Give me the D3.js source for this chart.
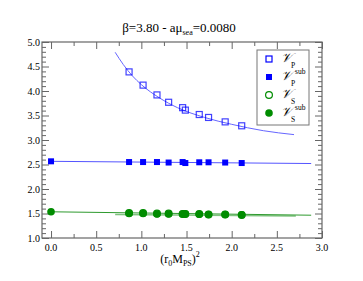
<!DOCTYPE html>
<html>
<head>
<meta charset="utf-8">
<script src="https://cdn.jsdelivr.net/npm/d3@7"></script>
<style>
  body { margin: 0; background: #fff; }
  text { font-family: "Liberation Serif", "DejaVu Serif", serif; }
</style>
</head>
<body>
<div id="chart"></div>
<script>
const width = 363;
const height = 281;

// x values shared by all lattice points
const xPoints = [0.864, 1.019, 1.173, 1.302, 1.457, 1.487, 1.641, 1.744, 1.928, 2.111];
const vP = [4.39, 4.12, 3.92, 3.77, 3.66, 3.61, 3.52, 3.46, 3.37, 3.29];
const vPsub = [2.55, 2.55, 2.55, 2.54, 2.55, 2.53, 2.545, 2.545, 2.54, 2.53];
const vS = [1.51, 1.51, 1.50, 1.50, 1.49, 1.49, 1.49, 1.48, 1.48, 1.47];
const vSsub = [1.50, 1.50, 1.49, 1.49, 1.49, 1.49, 1.485, 1.48, 1.48, 1.475];

// extrapolated points at x = 0
const chiralX = [0];
const chiralPsub = [2.565];
const chiralSsub = [1.535];

// fit curves
const fitPx = [0.71, 0.8, 0.9, 1.0, 1.2, 1.4, 1.7, 2.0, 2.35, 2.69];
const fitPy = [4.79, 4.54, 4.31, 4.13, 3.86, 3.66, 3.46, 3.32, 3.19, 3.11];
const fitPsubX = [0, 2.88];
const fitPsubY = [2.565, 2.52];
const fitSsubX = [0, 2.88];
const fitSsubY = [1.535, 1.465];
const fitSX = [0.71, 2.71];
const fitSY = [1.48, 1.45];

const margin = {top: 42, right: 41, bottom: 43, left: 42};

const x = d3.scaleLinear()
    .domain([-0.1, 3.0])
    .range([margin.left, width - margin.right]);
const y = d3.scaleLinear()
    .domain([1.0, 5.0])
    .range([height - margin.bottom, margin.top]);

const svg = d3.select("#chart").append("svg")
    .attr("width", width)
    .attr("height", height)
    .attr("viewBox", [0, 0, width, height]);

const axisColor = "#666";

// ticks, all pointing inward
const xMajor = d3.range(0, 3.01, 0.5);
const xMinor = d3.range(0.25, 3.0, 0.5);
const yMajor = d3.range(1.0, 5.01, 0.5);
const yMinor = d3.range(1.1, 5.0, 0.1).filter(v => Math.abs(v * 2 - Math.round(v * 2)) > 0.01);

function tickAxis(axisFn, scale, values, size, pos) {
  return svg.append("g")
      .attr("transform", pos)
      .call(axisFn(scale).tickValues(values).tickSize(size).tickFormat(""))
      .call(g => g.select(".domain").remove())
      .call(g => g.selectAll("line").attr("stroke", axisColor));
}

const bottomY = height - margin.bottom;
const rightX = width - margin.right;
tickAxis(d3.axisTop, x, xMajor, 7, `translate(0,${bottomY})`);
tickAxis(d3.axisTop, x, xMinor, 4, `translate(0,${bottomY})`);
tickAxis(d3.axisBottom, x, xMajor, 7, `translate(0,${margin.top})`);
tickAxis(d3.axisBottom, x, xMinor, 4, `translate(0,${margin.top})`);
tickAxis(d3.axisRight, y, yMajor, 7, `translate(${margin.left},0)`);
tickAxis(d3.axisRight, y, yMinor, 4, `translate(${margin.left},0)`);
tickAxis(d3.axisLeft, y, yMajor, 7, `translate(${rightX},0)`);
tickAxis(d3.axisLeft, y, yMinor, 4, `translate(${rightX},0)`);

svg.append("rect")
    .attr("x", margin.left)
    .attr("y", margin.top)
    .attr("width", rightX - margin.left)
    .attr("height", bottomY - margin.top)
    .attr("fill", "none")
    .attr("stroke", axisColor)
    .attr("stroke-width", 1.2);

// tick labels
svg.append("g").selectAll("text")
  .data(xMajor)
  .join("text")
    .attr("x", d => x(d))
    .attr("y", bottomY + 13)
    .attr("text-anchor", "middle")
    .attr("font-size", 10)
    .text(d => d.toFixed(1));

svg.append("g").selectAll("text")
  .data(yMajor)
  .join("text")
    .attr("x", margin.left - 2)
    .attr("y", d => y(d) + 3.5)
    .attr("text-anchor", "end")
    .attr("font-size", 10)
    .text(d => d.toFixed(1));

// title
const title = svg.append("text")
    .attr("x", 179)
    .attr("y", 32)
    .attr("text-anchor", "middle")
    .attr("font-size", 13);
title.append("tspan").text("β=3.80  -  aμ");
title.append("tspan").attr("font-size", 8).attr("dy", 3).text("sea");
title.append("tspan").attr("dy", -3).text("=0.0080");

// x label
const xlabel = svg.append("text")
    .attr("x", 180)
    .attr("y", 263)
    .attr("text-anchor", "middle")
    .attr("font-size", 12);
xlabel.append("tspan").text("(r");
xlabel.append("tspan").attr("font-size", 8).attr("dy", 3).text("0");
xlabel.append("tspan").attr("dy", -3).text("M");
xlabel.append("tspan").attr("font-size", 8).attr("dy", 3).text("PS");
xlabel.append("tspan").attr("dy", -3).text(")");
xlabel.append("tspan").attr("font-size", 8).attr("dy", -6).text("2");

// fit lines
const line = d3.line().x(d => x(d[0])).y(d => y(d[1]));
const curve = d3.line().x(d => x(d[0])).y(d => y(d[1])).curve(d3.curveMonotoneX);

svg.append("path")
    .attr("d", curve(d3.zip(fitPx, fitPy)))
    .attr("fill", "none").attr("stroke", "#6666ff").attr("stroke-width", 1);
svg.append("path")
    .attr("d", line(d3.zip(fitPsubX, fitPsubY)))
    .attr("fill", "none").attr("stroke", "#5555ff").attr("stroke-width", 1);
svg.append("path")
    .attr("d", line(d3.zip(fitSX, fitSY)))
    .attr("fill", "none").attr("stroke", "#7fc27f").attr("stroke-width", 1.5);
svg.append("path")
    .attr("d", line(d3.zip(fitSsubX, fitSsubY)))
    .attr("fill", "none").attr("stroke", "#2e9a2e").attr("stroke-width", 1);

const blue = "#0000ff";
const green = "#008c00";
const sq = 6;

function squares(xs, ys, filled) {
  svg.append("g").selectAll("rect")
    .data(d3.zip(xs, ys))
    .join("rect")
      .attr("x", d => x(d[0]) - sq / 2)
      .attr("y", d => y(d[1]) - sq / 2)
      .attr("width", sq)
      .attr("height", sq)
      .attr("fill", filled ? blue : "none")
      .attr("stroke", blue)
      .attr("stroke-opacity", filled ? 1 : 0.75)
      .attr("stroke-width", filled ? 0 : 1.2);
}

function circles(xs, ys, filled) {
  svg.append("g").selectAll("circle")
    .data(d3.zip(xs, ys))
    .join("circle")
      .attr("cx", d => x(d[0]))
      .attr("cy", d => y(d[1]))
      .attr("r", filled ? 3.8 : 3.4)
      .attr("fill", filled ? green : "none")
      .attr("stroke", green)
      .attr("stroke-width", filled ? 0 : 1.2);
}

squares(xPoints, vP, false);
squares(xPoints, vPsub, true);
squares(chiralX, chiralPsub, true);
circles(xPoints, vS, false);
circles(xPoints, vSsub, true);
circles(chiralX, chiralSsub, true);

// legend
const legendX = 257, legendY = 50;
svg.append("rect")
    .attr("x", legendX)
    .attr("y", legendY)
    .attr("width", 52)
    .attr("height", 75)
    .attr("fill", "#fff")
    .attr("stroke", "#777")
    .attr("stroke-width", 1);

const legendItems = [
  {sub: "P", sup: "", shape: "square", filled: false},
  {sub: "P", sup: "sub", shape: "square", filled: true},
  {sub: "S", sup: "", shape: "circle", filled: false},
  {sub: "S", sup: "sub", shape: "circle", filled: true}
];

legendItems.forEach((d, i) => {
  const cy = legendY + 9 + i * 18;
  if (d.shape === "square") {
    svg.append("rect")
        .attr("x", 269 - 3).attr("y", cy - 3)
        .attr("width", 6).attr("height", 6)
        .attr("fill", d.filled ? blue : "none")
        .attr("stroke", blue)
        .attr("stroke-width", d.filled ? 0 : 1.2);
  } else {
    svg.append("circle")
        .attr("cx", 269).attr("cy", cy)
        .attr("r", d.filled ? 3.8 : 3.4)
        .attr("fill", d.filled ? green : "none")
        .attr("stroke", green)
        .attr("stroke-width", d.filled ? 0 : 1.2);
  }
  svg.append("text")
      .attr("x", 281)
      .attr("y", cy + 3)
      .attr("font-size", 13)
      .attr("font-style", "italic")
      .text("𝒱");
  svg.append("text")
      .attr("x", 291)
      .attr("y", cy + 9)
      .attr("font-size", 7.5)
      .text(d.sub);
  if (d.sup) {
    svg.append("text")
        .attr("x", 295)
        .attr("y", cy - 3)
        .attr("font-size", 7.5)
        .text(d.sup);
  }
});
</script>
</body>
</html>
